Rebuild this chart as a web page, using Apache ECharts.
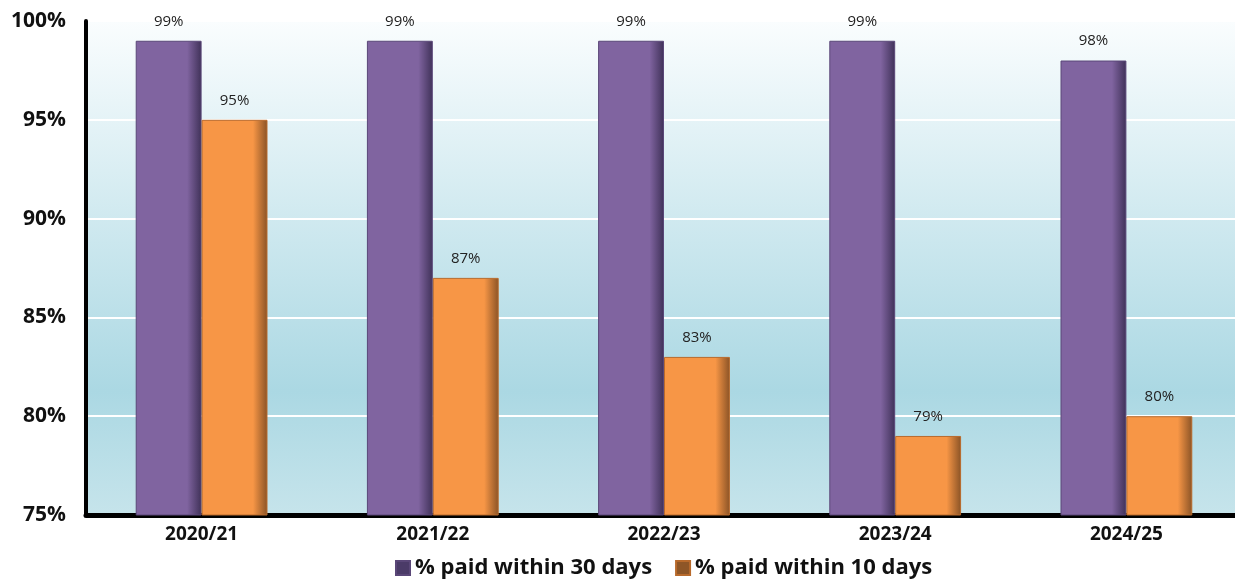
<!DOCTYPE html>
<html>
<head>
<meta charset="utf-8">
<script src="https://cdn.jsdelivr.net/npm/echarts@6/dist/echarts.min.js"></script>
<style>
  html,body{margin:0;padding:0;background:#fff;}
  #chart{width:1235px;height:587px;}
</style>
</head>
<body>
<div id="chart"></div>
<script>
const years = ['2020/21','2021/22','2022/23','2023/24','2024/25'];
const paid30 = [99, 99, 99, 99, 98];
const paid10 = [95, 87, 83, 79, 80];
const seriesNames = ['% paid within 30 days', '% paid within 10 days'];

const G = echarts.graphic.LinearGradient;
const barFill = (main, dark) => new G(0, 0, 1, 0, [
  {offset:0, color:main},{offset:0.78, color:main},{offset:1, color:dark}
]);

const chart = echarts.init(document.getElementById('chart'));
chart.setOption({
  backgroundColor:'#fff',
  textStyle:{fontFamily:'"Open Sans", sans-serif'},
  grid:{
    left:86, right:-7, top:21, bottom:72, show:true, borderWidth:0,
    outerBoundsMode:'none', containLabel:false,
    backgroundColor:new G(0,0,0,1,[
      {offset:0,color:'#fafdfe'},{offset:0.75,color:'#abd8e3'},{offset:1,color:'#c6e4eb'}
    ])
  },
  legend:{
    bottom:3, left:390, icon:'rect', itemWidth:14, itemHeight:14, itemGap:23,
    textStyle:{fontSize:22, fontWeight:'bold', color:'#111'},
    data:[
      {name:seriesNames[0], itemStyle:{color:'#4b3b68'}},
      {name:seriesNames[1], itemStyle:{color:'#8e5627'}}
    ]
  },
  xAxis:{
    type:'category', data:years,
    axisLine:{lineStyle:{color:'#000', width:5}},
    axisTick:{show:false},
    axisLabel:{fontSize:19, fontWeight:'bold', color:'#111', margin:10}
  },
  yAxis:{
    type:'value', min:75, max:100, interval:5,
    axisLine:{show:true, lineStyle:{color:'#000', width:4}},
    axisTick:{show:false},
    splitLine:{lineStyle:{color:'#fff', width:2}},
    axisLabel:{formatter:'{value}%', fontSize:21, fontWeight:'bold', color:'#111', margin:20}
  },
  series:[
    {
      name:seriesNames[0], type:'bar', data:paid30, barGap:'0%', barCategoryGap:'43%',
      itemStyle:{color:barFill('#8064a0','#3f3158'), borderColor:'#5a4778', borderWidth:1},
      label:{show:true, position:'top', distance:12, formatter:'{c}%', fontSize:15, color:'#222'}
    },
    {
      name:seriesNames[1], type:'bar', data:paid10,
      itemStyle:{color:barFill('#f79646','#8a5326'), borderColor:'#b86a2c', borderWidth:1},
      label:{show:true, position:'top', distance:12, formatter:'{c}%', fontSize:15, color:'#222'}
    }
  ]
});
</script>
</body>
</html>
